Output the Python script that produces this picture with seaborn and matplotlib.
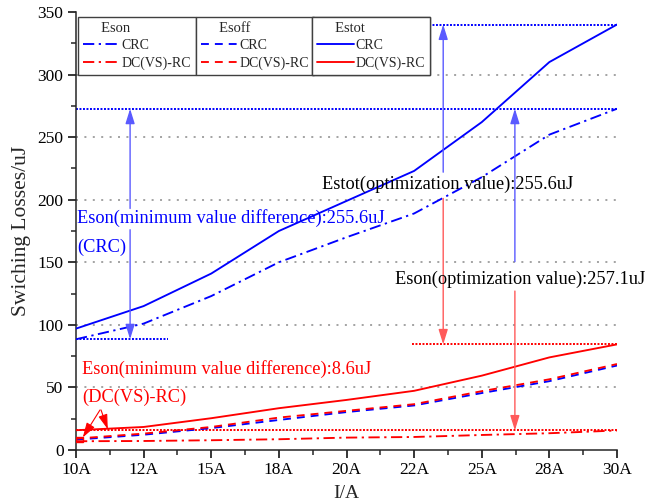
import matplotlib
matplotlib.use("Agg")
import matplotlib.pyplot as plt
from matplotlib.patches import Rectangle
from matplotlib.lines import Line2D
from matplotlib.ticker import MultipleLocator, FixedLocator
import seaborn as sns
import pandas as pd

# Switching losses versus load current
currents = ["10A", "12A", "15A", "18A", "20A", "22A", "25A", "28A", "30A"]
eson_crc = [88.5, 101, 123, 150, 170, 189, 218, 252, 272.7]
esoff_crc = [8.3, 12.2, 17.5, 24.0, 30.3, 35.6, 45.5, 55.0, 67.5]
estot_crc = [97, 115, 141, 175, 199, 223, 262, 310, 340.0]
eson_dc = [7.0, 7.2, 7.8, 8.6, 9.9, 10.4, 12.0, 13.4, 15.6]
esoff_dc = [9.1, 13.1, 18.4, 25.9, 31.3, 36.6, 47.0, 56.5, 68.7]
estot_dc = [15.8, 18.4, 25.4, 33.4, 40.0, 47.3, 59.4, 74.0, 84.4]

df = pd.DataFrame({
    "I": currents,
    "eson_crc": eson_crc, "esoff_crc": esoff_crc, "estot_crc": estot_crc,
    "eson_dc": eson_dc, "esoff_dc": esoff_dc, "estot_dc": estot_dc,
})

sns.set_style("ticks")
plt.rcParams["font.family"] = ["Liberation Serif", "DejaVu Serif"]
plt.rcParams["axes.linewidth"] = 1.1

BLUE = "#0000ff"
RED = "#ff0000"
DASHDOT = (0, (6, 2.4, 1.2, 2.4))
DASHED = (0, (4.2, 3.2))
LW = 1.35

fig = plt.figure(figsize=(6.47, 5.03), dpi=100)
ax = fig.add_axes([76 / 647, 1 - 450 / 503, 541 / 647, 438 / 503])

# horizontal dotted grid
for g in range(50, 301, 50):
    ax.axhline(g, color="#8a8a8a", lw=1.1, ls=(0, (1.3, 4.2)), zorder=0)

series = [
    ("esoff_crc", BLUE, DASHED),
    ("esoff_dc", RED, DASHED),
    ("eson_crc", BLUE, DASHDOT),
    ("eson_dc", RED, DASHDOT),
    ("estot_crc", BLUE, "-"),
    ("estot_dc", RED, "-"),
]
for col, c, ls in series:
    sns.lineplot(data=df, x="I", y=col, color=c, lw=LW, ls=ls, ax=ax,
                 sort=False, zorder=3)

ax.set_xlim(0, len(currents) - 1)
ax.set_ylim(0, 350)
ax.yaxis.set_major_locator(MultipleLocator(50))
ax.yaxis.set_minor_locator(MultipleLocator(25))
ax.xaxis.set_major_locator(FixedLocator(range(len(currents))))
ax.set_xticklabels(currents)
ax.xaxis.set_minor_locator(FixedLocator([i + 0.5 for i in range(len(currents) - 1)]))
ax.tick_params(axis="both", which="major", direction="out", length=6, width=1.1,
               labelsize=12.5, pad=3, colors="black")
ax.tick_params(axis="both", which="minor", direction="out", length=3.5, width=1.1)
ax.set_xlabel("I/A", fontsize=14, labelpad=5)
ax.set_ylabel("Swiching Losses/uJ", fontsize=15.5, labelpad=5)
for s in ("top", "right"):
    ax.spines[s].set_visible(False)


def arrow(x0, y0, x1, y1, color, lw=1.0):
    ax.annotate("", xy=(x1, y1), xytext=(x0, y0),
                arrowprops=dict(arrowstyle="-|>,head_length=0.9,head_width=0.28",
                                color=color, lw=lw, mutation_scale=10,
                                shrinkA=0, shrinkB=0), zorder=4)


DOT = (0, (1, 0.8))
# reference levels
ax.hlines(eson_crc[-1], 0, 8, color=BLUE, lw=1.4, ls=DOT, zorder=2)
ax.hlines(eson_crc[0], 0, 1.36, color=BLUE, lw=1.4, ls=DOT, zorder=2)
ax.hlines(estot_crc[-1], 5.12, 8, color=BLUE, lw=1.4, ls=DOT, zorder=2)
ax.hlines(estot_dc[-1], 4.97, 8, color=RED, lw=1.4, ls=DOT, zorder=2)
ax.hlines(eson_dc[-1], 0, 8, color=RED, lw=1.4, ls=DOT, zorder=2)
ax.add_patch(Rectangle((0, 6.4), 0.1, 4.0, fill=False, ec=RED, lw=1.0, zorder=4))

LBLUE = "#5a5aff"
LRED = "#ff5a5a"
# Eson spread for CRC
arrow(0.8, 193, 0.8, eson_crc[-1], LBLUE)
arrow(0.8, 176, 0.8, eson_crc[0], LBLUE)
# Estot optimisation
arrow(5.43, 222, 5.43, estot_crc[-1], LBLUE)
arrow(5.43, 201, 5.43, estot_dc[-1], LRED)
# Eson optimisation
arrow(6.49, 150.5, 6.49, eson_crc[-1], LBLUE)
arrow(6.49, 127, 6.49, eson_dc[-1], LRED)
# Eson spread for DC(VS)-RC
arrow(0.355, 32, 0.1, 10.0, RED, lw=0.8)
arrow(0.37, 32, 0.47, 16.6, RED, lw=0.8)

TFS = 13.2
ax.text(0.015, 185.4, "Eson(minimum value difference):255.6uJ", color=BLUE,
        fontsize=TFS, va="center", ha="left", zorder=5)
ax.text(0.015, 162.2, "(CRC)", color=BLUE, fontsize=TFS, va="center", ha="left", zorder=5)
ax.text(3.64, 212.6, "Estot(optimization value):255.6uJ", color="black",
        fontsize=TFS, va="center", ha="left", zorder=5)
ax.text(4.72, 136.6, "Eson(optimization value):257.1uJ", color="black",
        fontsize=TFS, va="center", ha="left", zorder=5)
ax.text(0.09, 64.7, "Eson(minimum value difference):8.6uJ", color=RED,
        fontsize=TFS, va="center", ha="left", zorder=5)
ax.text(0.09, 42.4, "(DC(VS)-RC)", color=RED, fontsize=TFS, va="center", ha="left", zorder=5)

# three grouped legends
groups = [("Eson", DASHDOT, 0.0037), ("Esoff", DASHED, 0.2218), ("Estot", "-", 0.4362)]
for title, ls, x0 in groups:
    handles = [Line2D([], [], color=BLUE, lw=LW, ls=ls),
               Line2D([], [], color=RED, lw=LW, ls=ls)]
    leg = ax.legend(handles, ["CRC", "DC(VS)-RC"], title="     " + title,
                    loc="upper left", bbox_to_anchor=(x0, 0.9886),
                    borderaxespad=0, fontsize=10, title_fontsize=10.5,
                    handlelength=2.7, handletextpad=0.1, labelspacing=0.32,
                    borderpad=0.35, fancybox=False, framealpha=1,
                    edgecolor="#404040", alignment="left")
    leg.get_frame().set_linewidth(1.0)
    leg.set_zorder(6)
    ax.add_artist(leg)

fig.savefig("out.png", dpi=100)
